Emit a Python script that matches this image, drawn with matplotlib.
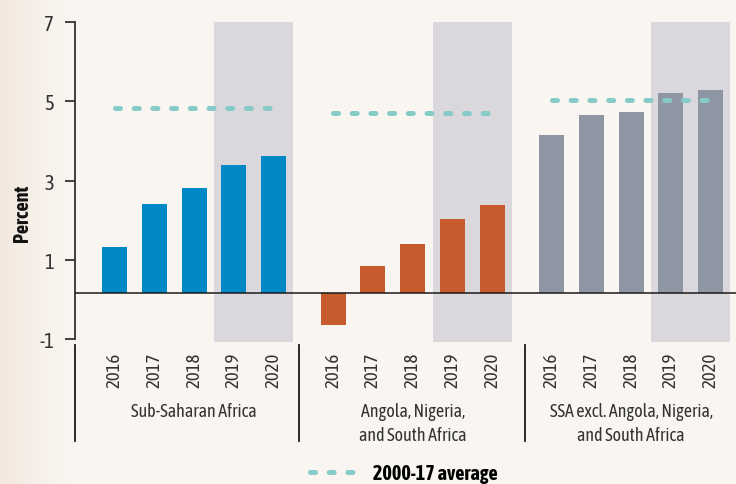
import numpy as np
import matplotlib
matplotlib.use("Agg")
import matplotlib.pyplot as plt
from matplotlib.lines import Line2D
from matplotlib import font_manager

# pick a narrow font if one is installed (prefer one that also has a bold face)
fonts = font_manager.fontManager.ttflist
weights = {}
for f in fonts:
    if "Narrow" in f.name or "Condensed" in f.name:
        w = f.weight if isinstance(f.weight, int) else (700 if "bold" in str(f.weight) else 400)
        weights.setdefault(f.name, set()).add(w)
narrow = None
for name, ws in sorted(weights.items()):
    if max(ws) >= 600:
        narrow = name
        break
if narrow is None and weights:
    narrow = sorted(weights)[0]
if narrow is None:
    narrow = "DejaVu Sans"

plt.rcParams['font.family'] = [narrow, 'DejaVu Sans']
plt.rcParams['axes.unicode_minus'] = False

# data (percent)
years = ["2016", "2017", "2018", "2019", "2020"]
groups = ["Sub-Saharan Africa",
          "Angola, Nigeria,\nand South Africa",
          "SSA excl. Angola, Nigeria,\nand South Africa"]
ssa = [1.32, 2.41, 2.81, 3.39, 3.61]
ans = [-0.64, 0.84, 1.40, 2.03, 2.38]
ssa_excl = [4.14, 4.65, 4.72, 5.20, 5.28]
avg_2000_17 = [4.82, 4.71, 5.03]
baseline = 0.16

colors = ["#0088c6", "#c85b2e", "#8f96a3"]
avg_color = "#86cbc8"
shade_color = "#dad8dc"
bg = "#f9f6f1"

fig = plt.figure(figsize=(7.36, 4.85), dpi=100)
fig.patch.set_facecolor(bg)

# soft beige gradient on the left edge
bgax = fig.add_axes([0, 0, 0.09, 1], zorder=-5)
grad = np.linspace(0, 1, 100)[None, :]
cmap = matplotlib.colors.LinearSegmentedColormap.from_list("bgg", ["#f3e8de", bg])
bgax.imshow(grad, aspect="auto", cmap=cmap, extent=[0, 1, 0, 1])
bgax.axis("off")

W, H = 736, 485
ax = fig.add_axes([75 / W, (H - 343) / H, (W - 75) / W, 320 / H])
ax.set_facecolor("none")

txt = "#333333"
starts = [0, 5.5, 11]
series = [ssa, ans, ssa_excl]
for g, (s0, vals) in enumerate(zip(starts, series)):
    x = s0 + np.arange(len(years))
    ax.axvspan(x[3] - 0.5, x[4] + 0.5, color=shade_color, lw=0, zorder=0)
    ax.bar(x, np.array(vals) - baseline, bottom=baseline, width=0.63,
           color=colors[g], zorder=2)
    ax.plot([x[0], x[-1]], [avg_2000_17[g]] * 2, color=avg_color, lw=3.6,
            dashes=(1, 2.74), solid_capstyle="round", dash_capstyle="round",
            zorder=3)
    for xi, yr in zip(x, years):
        ax.text(xi, -10 / 320, yr, transform=ax.get_xaxis_transform(),
                rotation=90, ha="center", va="top", fontsize=13.5, color=txt)
    ax.text(x[2], -60 / 320, groups[g], transform=ax.get_xaxis_transform(),
            ha="center", va="top", fontsize=13, color=txt,
            linespacing=1.4)

ax.axhline(baseline, color="#1a1a1a", lw=1.1, zorder=4)

ax.set_xlim(-1.0, 15.64)
ax.set_ylim(-1.07, 7)
ax.set_yticks([-1, 1, 3, 5, 7])
ax.set_xticks([])
for sp in ["top", "right", "bottom"]:
    ax.spines[sp].set_visible(False)
ax.spines["left"].set_bounds(-1, 7)
ax.spines["left"].set_color(txt)
ax.spines["left"].set_linewidth(1.3)
ax.tick_params(axis="y", length=7, width=1.3, color=txt,
               labelsize=15, labelcolor=txt, pad=8)
ax.set_ylabel("Percent", fontsize=14.5, fontweight="bold", color="#111111")
ax.yaxis.set_label_coords(-0.065, 0.406)

# group separators
for xs in [-1.0, 4.65, 10.33]:
    ax.plot([xs, xs], [-3 / 320, -99 / 320], transform=ax.get_xaxis_transform(),
            color="#1a1a1a", lw=1.3, clip_on=False)

handle = Line2D([], [], color=avg_color, lw=3.6, dashes=(1, 2.74),
                dash_capstyle="round")
leg = fig.legend([handle], ["2000-17 average"], loc="center",
                 bbox_to_anchor=(0.549, 0.022), frameon=False, handlelength=2.4,
                 handletextpad=0.7, prop={"weight": "bold", "size": 14.5})

fig.savefig("out.png", dpi=100, facecolor=bg)
